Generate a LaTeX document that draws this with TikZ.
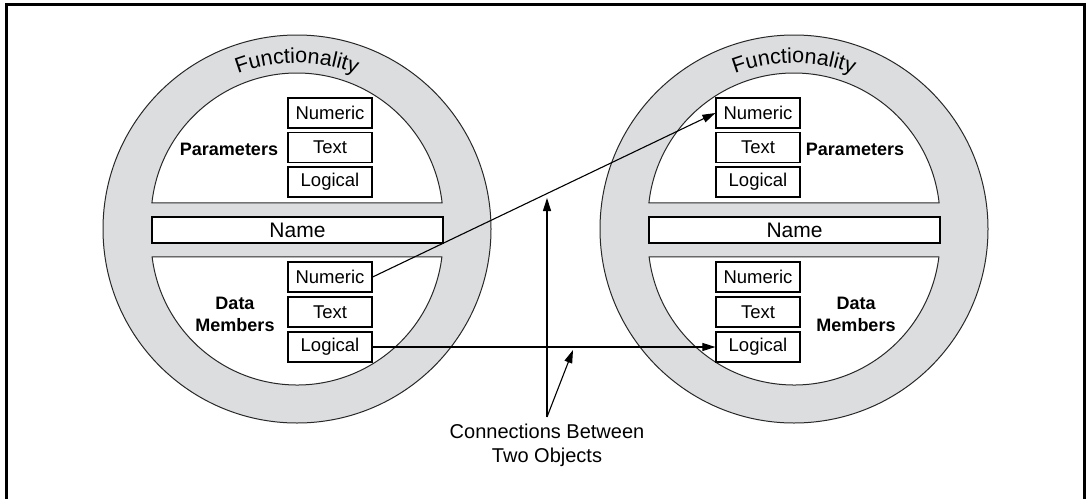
\documentclass[tikz,border=0pt]{standalone}
\usepackage{fontspec}
\setmainfont{Liberation Sans}
\usetikzlibrary{arrows.meta,decorations.text}
\definecolor{ringgray}{RGB}{220,221,223}
\definecolor{edgegray}{RGB}{40,40,40}
\newcommand\bxfont{\fontsize{18.5}{20}\selectfont}
\newcommand\nmfont{\fontsize{21}{22}\selectfont}
\newcommand\grfont{\fontsize{18}{22}\selectfont\bfseries}
\newcommand\lbfont{\fontsize{20}{24}\selectfont}
\newcommand\fnfont{\fontsize{21.5}{21.5}\selectfont}
\tikzset{
  ring/.style={fill=ringgray, draw=edgegray, line width=1pt},
  hole/.style={fill=white, draw=edgegray, line width=1pt},
  field/.style={draw=black, fill=white, line width=1.2pt, minimum width=84pt, minimum height=30pt, inner sep=0pt, font=\bxfont},
  namebar/.style={draw=black, fill=white, line width=1.2pt, minimum width=291pt, minimum height=26pt, inner sep=0pt, font=\nmfont},
  grp/.style={font=\grfont, align=center, inner sep=0pt},
  conn/.style={line width=1.1pt, -{Triangle[length=13pt,width=8pt]}},
  functext/.style={decorate, decoration={text along path, text={|\fnfont|Functionality}, text align=center}},
}
\begin{document}
\begin{tikzpicture}[x=1pt,y=-1pt]
\useasboundingbox (0,0) rectangle (1086,498);
% frame
\draw[line width=3pt] (6,500) -- (6,4) -- (1084,4) -- (1084,500);
% left object
\path[ring] (297,229) circle[radius=194];
\path[hole] (297,219) ++(186.3:146) arc[start angle=186.3, end angle=353.7, radius=146] -- cycle;
\path[hole] (297,239) ++(7.08:146) arc[start angle=7.08, end angle=172.92, radius=146] -- cycle;
\path[functext] (297,229) ++(205:166) arc[start angle=205, end angle=335, radius=166];
\node[namebar] (lname) at (297.5,230) {Name};
\node[field] (lpn) at (330,113) {Numeric};
\node[field] (lpt) at (330,147.5) {Text};
\node[field] (lpl) at (330,182) {Logical};
\node[field] (ldn) at (330,277) {Numeric};
\node[field] (ldt) at (330,312) {Text};
\node[field] (ldl) at (330,347) {Logical};
\node[grp] (lpar) at (229,149) {Parameters};
\node[grp] (ldm) at (235,314) {Data\\Members};
% right object
\path[ring] (794,229) circle[radius=194];
\path[hole] (794,219) ++(186.3:146) arc[start angle=186.3, end angle=353.7, radius=146] -- cycle;
\path[hole] (794,239) ++(7.08:146) arc[start angle=7.08, end angle=172.92, radius=146] -- cycle;
\path[functext] (794,229) ++(205:166) arc[start angle=205, end angle=335, radius=166];
\node[namebar] (rname) at (794.5,230) {Name};
\node[field] (rpn) at (758,113) {Numeric};
\node[field] (rpt) at (758,147.5) {Text};
\node[field] (rpl) at (758,182) {Logical};
\node[field] (rdn) at (758,277) {Numeric};
\node[field] (rdt) at (758,312) {Text};
\node[field] (rdl) at (758,347) {Logical};
\node[grp] (rpar) at (855,149) {Parameters};
\node[grp] (rdm) at (856,314) {Data\\Members};
% connections
\draw[conn] (ldn.east) -- (rpn.west);
\draw[conn] (ldl.east) -- (rdl.west);
\node[font=\lbfont, align=center, inner sep=0pt] (lab) at (547,445) {Connections Between\\Two Objects};
\coordinate (src) at (547,417);
\coordinate (hit1) at (547,198);
\coordinate (hit2) at (573,350);
\draw[conn] (src) -- (hit1);
\draw[conn] (src) -- (hit2);
\end{tikzpicture}
\end{document}
